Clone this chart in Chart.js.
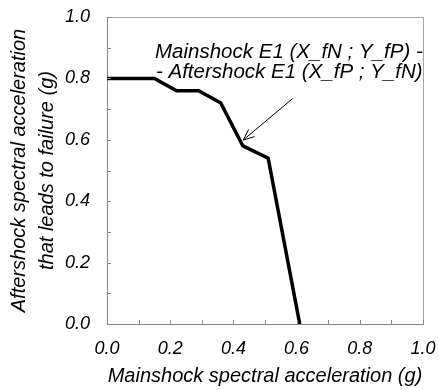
<!DOCTYPE html>
<html>
<head>
<meta charset="utf-8">
<script src="https://cdn.jsdelivr.net/npm/chart.js@4.4.1/dist/chart.umd.min.js"></script>
<style>
  html, body { margin: 0; padding: 0; background: #fff; }
  #wrap { width: 439px; height: 390px; }
</style>
</head>
<body>
<div id="wrap"><canvas id="failChart"></canvas></div>
<script>
// failure envelope
const mainshockSa = [0, 0.15, 0.22, 0.29, 0.36, 0.43, 0.51, 0.61];
const aftershockSa = [0.8, 0.8, 0.76, 0.76, 0.72, 0.58, 0.54, 0];
const tickValues = [0, 0.2, 0.4, 0.6, 0.8, 1.0];
const minorTicks = [0, 0.1, 0.2, 0.3, 0.4, 0.5, 0.6, 0.7, 0.8, 0.9, 1.0];

const noteLines = ['Mainshock E1 (X_fN ; Y_fP) -', '- Aftershock E1 (X_fP ; Y_fN)'];
const FONT = "'Liberation Sans', Arial, sans-serif";

// draws the frame, inward ticks and the arrow note
const decorPlugin = {
  id: 'decor',
  afterDraw(chart) {
    const { ctx, chartArea: a, scales: { x, y } } = chart;
    ctx.save();
    // top + right frame
    ctx.strokeStyle = '#a6a6a6';
    ctx.lineWidth = 1;
    ctx.beginPath();
    ctx.moveTo(a.left, a.top + 0.5);
    ctx.lineTo(a.right + 0.5, a.top + 0.5);
    ctx.lineTo(a.right + 0.5, a.bottom);
    ctx.stroke();

    // inward ticks every 0.1
    ctx.strokeStyle = '#868686';
    ctx.beginPath();
    minorTicks.forEach(v => {
      const px = Math.round(x.getPixelForValue(v)) + 0.5;
      ctx.moveTo(px, a.bottom);
      ctx.lineTo(px, a.bottom - 4);
      const py = Math.round(y.getPixelForValue(v)) + 0.5;
      ctx.moveTo(a.left, py);
      ctx.lineTo(a.left + 4, py);
    });
    ctx.stroke();

    // note text
    ctx.fillStyle = '#000';
    ctx.font = 'italic 20.5px ' + FONT;
    ctx.textAlign = 'left';
    ctx.textBaseline = 'alphabetic';
    ctx.fillText(noteLines[0], x.getPixelForValue(0.152), y.getPixelForValue(0.866));
    ctx.fillText(noteLines[1], x.getPixelForValue(0.155), y.getPixelForValue(0.801));

    // arrow
    const x0 = x.getPixelForValue(0.587), y0 = y.getPixelForValue(0.734);
    const x1 = x.getPixelForValue(0.431), y1 = y.getPixelForValue(0.599);
    const ang = Math.atan2(y1 - y0, x1 - x0);
    const len = 12;
    ctx.strokeStyle = '#000';
    ctx.lineWidth = 1;
    ctx.beginPath();
    ctx.moveTo(x0, y0);
    ctx.lineTo(x1, y1);
    ctx.moveTo(x1 - len * Math.cos(ang - 0.4), y1 - len * Math.sin(ang - 0.4));
    ctx.lineTo(x1, y1);
    ctx.lineTo(x1 - len * Math.cos(ang + 0.4), y1 - len * Math.sin(ang + 0.4));
    ctx.stroke();
    ctx.restore();
  }
};

const ctx = document.getElementById('failChart').getContext('2d');
window.failChart = new Chart(ctx, {
  type: 'line',
  data: {
    datasets: [{
      data: mainshockSa.map((v, i) => ({ x: v, y: aftershockSa[i] })),
      borderColor: '#000',
      borderWidth: 3.5,
      pointRadius: 0,
      tension: 0,
      fill: false
    }]
  },
  options: {
    responsive: true,
    maintainAspectRatio: false,
    animation: false,
    layout: { padding: { top: 17, right: 16, left: 0, bottom: 0 } },
    plugins: {
      legend: { display: false },
      tooltip: { enabled: false }
    },
    scales: {
      x: {
        type: 'linear',
        min: 0, max: 1,
        afterBuildTicks: s => { s.ticks = tickValues.map(v => ({ value: v })); },
        afterFit: s => { s.height = 66; s.paddingLeft = 0; s.paddingRight = 0; },
        grid: { display: false, drawTicks: false },
        border: { display: true, color: '#868686', width: 1 },
        ticks: {
          padding: 14,
          color: '#000',
          font: { family: FONT, size: 18, style: 'italic' },
          callback: v => v.toFixed(1),
          maxRotation: 0
        },
        title: {
          display: true,
          text: 'Mainshock spectral acceleration (g)',
          color: '#000',
          font: { family: FONT, size: 20, style: 'italic' },
          padding: { top: 0, bottom: 2 }
        }
      },
      y: {
        min: 0, max: 1,
        afterBuildTicks: s => { s.ticks = tickValues.map(v => ({ value: v })); },
        afterFit: s => { s.width = 107; s.paddingTop = 0; s.paddingBottom = 0; },
        grid: { display: false, drawTicks: false },
        border: { display: true, color: '#868686', width: 1 },
        ticks: {
          padding: 17,
          color: '#000',
          font: { family: FONT, size: 18, style: 'italic' },
          callback: v => v.toFixed(1)
        },
        title: {
          display: true,
          text: ['Aftershock spectral acceleration', 'that leads to failure (g)'],
          color: '#000',
          font: { family: FONT, size: 20, style: 'italic', lineHeight: 1.4 },
          padding: { top: 5, bottom: 0 }
        }
      }
    }
  },
  plugins: [decorPlugin]
});
</script>
</body>
</html>
